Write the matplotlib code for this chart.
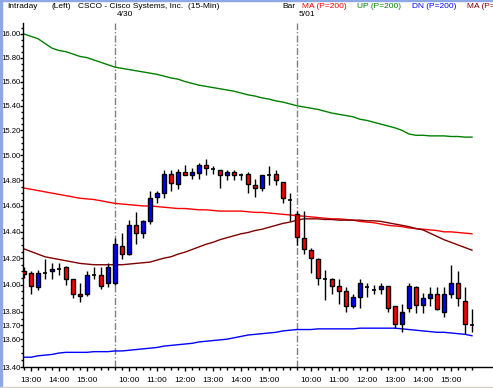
import numpy as np
import matplotlib
matplotlib.use('Agg')
import matplotlib.pyplot as plt
from matplotlib.ticker import FixedLocator, NullFormatter, FormatStrFormatter
from matplotlib.patches import Rectangle

plt.rcParams['font.family'] = ['Liberation Sans', 'DejaVu Sans']

# 15-min bars: 4/29 (from 12:45), 4/30, 5/01
day_starts = [(12, 45, 13), (9, 30, 26), (9, 30, 26)]
day_labels = ['4/30', '5/01']

opens = [14.10, 14.09, 13.98, 14.09, 14.10, 14.12, 14.13, 14.04, 13.93, 13.93,
         14.07, 14.07, 14.01, 14.01, 14.29, 14.23, 14.45, 14.39, 14.48, 14.67,
         14.70, 14.85, 14.77, 14.87, 14.84, 14.86, 14.92, 14.89, 14.88, 14.84,
         14.87, 14.84, 14.85, 14.76, 14.74, 14.84, 14.85, 14.79, 14.65, 14.54,
         14.35, 14.26, 14.19, 14.04, 14.04, 13.99, 13.95, 13.84, 13.91, 13.98,
         13.96, 13.97, 13.99, 13.84, 13.71, 13.83, 13.98, 13.85, 13.90, 13.93,
         13.80, 13.93, 14.01, 13.88, 13.70]
closes = [14.08, 13.99, 14.09, 14.09, 14.12, 14.12, 14.04, 13.93, 13.92, 14.07,
          14.07, 13.99, 14.13, 14.31, 14.23, 14.45, 14.39, 14.48, 14.66, 14.70,
          14.85, 14.78, 14.87, 14.84, 14.87, 14.92, 14.90, 14.89, 14.84, 14.87,
          14.84, 14.84, 14.77, 14.74, 14.84, 14.84, 14.80, 14.66, 14.65, 14.36,
          14.27, 14.20, 14.05, 14.04, 13.99, 13.95, 13.84, 13.91, 14.01, 13.98,
          13.96, 13.99, 13.83, 13.71, 13.80, 13.99, 13.85, 13.90, 13.93, 13.82,
          13.93, 14.01, 13.90, 13.71, 13.70]
highs = [14.13, 14.10, 14.11, 14.19, 14.16, 14.16, 14.14, 14.04, 14.01, 14.10,
         14.13, 14.13, 14.16, 14.35, 14.39, 14.49, 14.55, 14.49, 14.72, 14.72,
         14.88, 14.88, 14.89, 14.92, 14.90, 14.94, 14.97, 14.91, 14.88, 14.88,
         14.88, 14.86, 14.87, 14.81, 14.84, 14.91, 14.88, 14.79, 14.70, 14.56,
         14.56, 14.28, 14.20, 14.11, 14.05, 14.04, 13.98, 13.93, 14.04, 14.01,
         14.00, 14.01, 13.99, 13.84, 13.86, 14.01, 13.99, 13.94, 13.98, 13.98,
         13.98, 14.15, 14.10, 13.98, 13.82]
lows = [14.05, 13.93, 13.96, 14.04, 14.04, 14.07, 14.00, 13.90, 13.87, 13.92,
        14.04, 13.97, 13.98, 14.00, 14.19, 14.22, 14.31, 14.35, 14.46, 14.62,
        14.66, 14.72, 14.73, 14.84, 14.81, 14.81, 14.84, 14.85, 14.74, 14.80,
        14.80, 14.80, 14.70, 14.67, 14.72, 14.76, 14.76, 14.62, 14.48, 14.30,
        14.23, 14.09, 14.00, 13.89, 13.93, 13.86, 13.80, 13.83, 13.83, 13.91,
        13.93, 13.93, 13.80, 13.68, 13.65, 13.80, 13.79, 13.79, 13.84, 13.81,
        13.76, 13.90, 13.84, 13.64, 13.65]

ma_200 = [14.74, 14.73, 14.72, 14.71, 14.70, 14.69, 14.68, 14.67, 14.66, 14.655,
          14.65, 14.64, 14.63, 14.62, 14.615, 14.61, 14.605, 14.60, 14.60, 14.595,
          14.59, 14.585, 14.58, 14.58, 14.575, 14.57, 14.57, 14.565, 14.56, 14.56,
          14.56, 14.56, 14.555, 14.55, 14.55, 14.545, 14.54, 14.535, 14.53, 14.525,
          14.52, 14.515, 14.51, 14.505, 14.50, 14.50, 14.495, 14.49, 14.48, 14.475,
          14.47, 14.46, 14.45, 14.445, 14.44, 14.43, 14.425, 14.42, 14.415, 14.41,
          14.40, 14.40, 14.395, 14.39, 14.385]
up_200 = [16.00, 15.98, 15.96, 15.92, 15.88, 15.86, 15.85, 15.83, 15.81, 15.80,
          15.78, 15.76, 15.74, 15.72, 15.71, 15.70, 15.69, 15.68, 15.67, 15.66,
          15.645, 15.63, 15.62, 15.60, 15.585, 15.57, 15.56, 15.55, 15.54, 15.53,
          15.52, 15.505, 15.49, 15.48, 15.465, 15.455, 15.44, 15.43, 15.415, 15.40,
          15.39, 15.38, 15.37, 15.355, 15.34, 15.33, 15.32, 15.31, 15.29, 15.28,
          15.265, 15.25, 15.235, 15.22, 15.20, 15.17, 15.16, 15.16, 15.155, 15.155,
          15.155, 15.15, 15.15, 15.145, 15.145]
dn_200 = [13.47, 13.47, 13.48, 13.485, 13.49, 13.50, 13.505, 13.505, 13.505, 13.505,
          13.51, 13.51, 13.51, 13.515, 13.515, 13.52, 13.525, 13.53, 13.535, 13.54,
          13.55, 13.555, 13.56, 13.565, 13.57, 13.58, 13.585, 13.59, 13.595, 13.60,
          13.61, 13.62, 13.63, 13.635, 13.64, 13.645, 13.65, 13.66, 13.665, 13.67,
          13.67, 13.67, 13.675, 13.675, 13.675, 13.675, 13.675, 13.675, 13.68, 13.68,
          13.68, 13.68, 13.68, 13.68, 13.675, 13.67, 13.665, 13.66, 13.655, 13.65,
          13.65, 13.645, 13.64, 13.635, 13.625]
ma_short = [14.27, 14.25, 14.23, 14.21, 14.20, 14.19, 14.18, 14.17, 14.16, 14.155,
            14.15, 14.15, 14.15, 14.15, 14.15, 14.155, 14.16, 14.165, 14.17, 14.185,
            14.20, 14.21, 14.23, 14.245, 14.265, 14.285, 14.305, 14.32, 14.34, 14.355,
            14.37, 14.385, 14.395, 14.41, 14.42, 14.435, 14.45, 14.465, 14.475, 14.49,
            14.50, 14.50, 14.50, 14.495, 14.495, 14.49, 14.49, 14.49, 14.49, 14.485,
            14.485, 14.48, 14.47, 14.46, 14.45, 14.44, 14.425, 14.415, 14.39, 14.365,
            14.34, 14.32, 14.30, 14.28, 14.26]

ytick_vals = [13.40, 13.60, 13.70, 13.80, 14.00, 14.20, 14.40, 14.60, 14.80,
              15.00, 15.20, 15.40, 15.60, 15.80, 16.00]

# bar times
times = []
day_first = []
for h, m, n in day_starts:
    day_first.append(len(times))
    for k in range(n):
        t = h * 60 + m + 15 * k
        times.append((t // 60, t % 60))

x = np.arange(len(opens))
o = np.array(opens); c = np.array(closes)
h = np.array(highs); l = np.array(lows)

fig = plt.figure(figsize=(4.93, 3.88), dpi=100)
W, H = 493, 388
ax = fig.add_axes([23 / W, 21 / H, 469 / W, 344 / H])
ax.set_yscale('log')
ax.set_ylim(13.40, 16.094)
ax.set_xlim(-0.14, 66.86)

# lines
ax.plot(x, up_200, color='#008000', lw=1, zorder=2)
ax.plot(x, ma_200, color='#ff0000', lw=1, zorder=2)
ax.plot(x, ma_short, color='#800000', lw=1, zorder=2)
ax.plot(x, dn_200, color='#0000ff', lw=1, zorder=2)

# day separators
for i in day_first[1:]:
    ax.axvline(i, color='#808080', lw=1, dashes=(5, 1.5, 1, 1.5), zorder=1)

# candles
ax.vlines(x, l, h, color='black', lw=1, zorder=3)
doji = o == c
up = c > o
dn = c < o
ax.bar(x[up], c[up] - o[up], bottom=o[up], width=0.7, color='#0000ff',
       edgecolor='black', lw=1, zorder=4)
ax.bar(x[dn], o[dn] - c[dn], bottom=c[dn], width=0.7, color='#ff0000',
       edgecolor='black', lw=1, zorder=4)
ax.hlines(o[doji], x[doji] - 0.35, x[doji] + 0.35, color='black', lw=1.2, zorder=4)

# axes styling
for s in ['top', 'right']:
    ax.spines[s].set_visible(False)
ax.spines['left'].set_linewidth(1)
ax.spines['bottom'].set_linewidth(1)

ax.yaxis.set_major_locator(FixedLocator(ytick_vals))
ax.yaxis.set_major_formatter(FormatStrFormatter('%.2f'))
ax.yaxis.set_minor_locator(FixedLocator(np.arange(13.45, 16.1, 0.05)))
ax.yaxis.set_minor_formatter(NullFormatter())
ax.tick_params(axis='y', which='major', direction='out', length=2.2, width=1,
               pad=-0.5, labelsize=5.6)
ax.tick_params(axis='y', which='minor', direction='out', length=1.5, width=1)

hour_idx = [i for i, (hh, mm) in enumerate(times) if mm == 0]
ax.xaxis.set_major_locator(FixedLocator(hour_idx))
ax.set_xticklabels(['%d:00' % times[i][0] for i in hour_idx])
ax.xaxis.set_minor_locator(FixedLocator(list(x)))
ax.tick_params(axis='x', which='major', direction='out', length=3, width=1,
               pad=4, labelsize=6)
ax.tick_params(axis='x', which='minor', direction='out', length=2.2, width=1)

# header
def ftext(px, py, s, color='black'):
    fig.text(px / W, 1 - py / H, s, color=color, fontsize=6, va='center', ha='left')

ftext(7, 7, 'Intraday')
ftext(52, 7, '(Left)')
ftext(78, 7, 'CSCO - Cisco Systems, Inc.  (15-Min)')
ftext(282, 7, 'Bar')
ftext(302, 7, 'MA (P=200)', '#ff0000')
ftext(357, 7, 'UP (P=200)', '#008000')
ftext(412, 7, 'DN (P=200)', '#0000ff')
ftext(467, 7, 'MA (P=200)', '#800000')

for i, lab in zip(day_first[1:], day_labels):
    ax.annotate(lab, xy=(i, 1), xycoords=('data', 'axes fraction'),
                xytext=(2, 8), textcoords='offset pixels', fontsize=6,
                va='center', ha='left', annotation_clip=False)

# window border
fig.patches.append(Rectangle((0, 0), 2 / W, 1, transform=fig.transFigure,
                             color='#8ea7e6', zorder=0))
fig.patches.append(Rectangle((0, 1 - 1 / H), 1, 1 / H, transform=fig.transFigure,
                             color='#8ea7e6', zorder=0))
fig.patches.append(Rectangle((0, 0), 1, 1 / H, transform=fig.transFigure,
                             color='#d4d0c8', zorder=0))

fig.savefig('out.png', dpi=100)
